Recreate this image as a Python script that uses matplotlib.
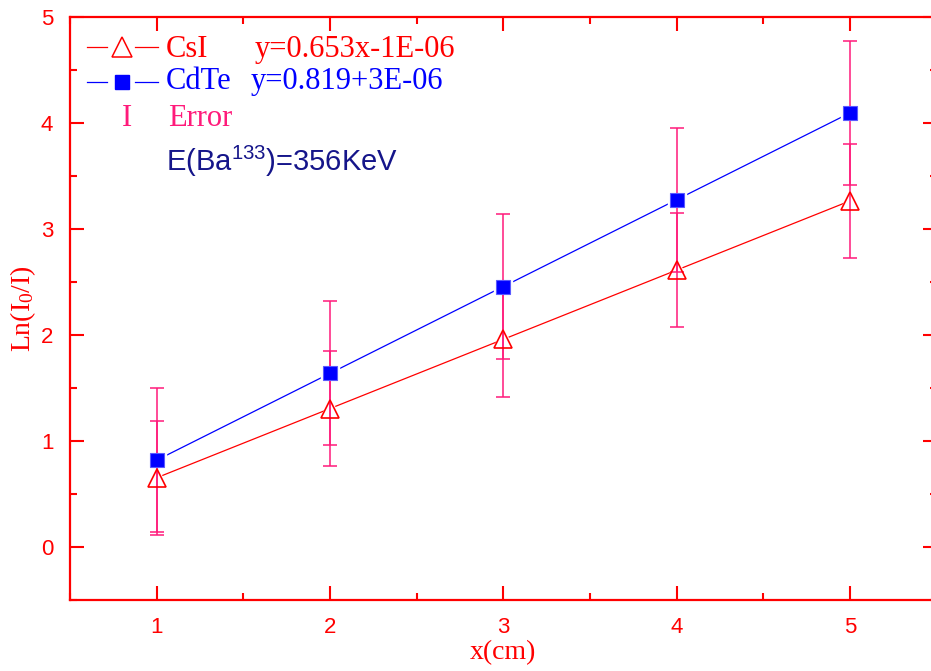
import matplotlib
matplotlib.use("Agg")
import matplotlib.pyplot as plt
from matplotlib.ticker import MultipleLocator

# data
x = [1, 2, 3, 4, 5]
csi = [0.653, 1.306, 1.959, 2.612, 3.265]
cdte = [0.819, 1.638, 2.457, 3.276, 4.095]
csi_err = [0.54, 0.54, 0.54, 0.54, 0.54]
cdte_err = [0.68, 0.68, 0.68, 0.68, 0.68]

red = "#ff0000"
blue = "#0000ff"
pink = "#ff1a7a"
navy = "#15158a"

plt.rcParams["mathtext.default"] = "regular"

fig = plt.figure(figsize=(9.31, 6.71), dpi=100)
ax = fig.add_axes([0.0752, 0.1058, 0.931, 0.869])

# connecting lines, broken around the markers
ax.plot(x, csi, color=red, lw=0.9, zorder=1)
ax.plot(x, cdte, color=blue, lw=0.9, zorder=1)
ax.plot(x, csi, ls="none", marker="^", ms=16, mfc="white", mec="white", zorder=2)
ax.plot(x, cdte, ls="none", marker="s", ms=13, mfc="white", mec="white", zorder=2)

ax.errorbar(x, cdte, yerr=cdte_err, fmt="none", ecolor=pink, elinewidth=1.1,
            capsize=5, capthick=1.1, zorder=3)
ax.errorbar(x, csi, yerr=csi_err, fmt="none", ecolor=pink, elinewidth=1.1,
            capsize=5, capthick=1.1, zorder=3)

ax.plot(x, csi, ls="none", marker="^", ms=12.5, mfc="none", mec=red, mew=1.2, zorder=4)
ax.plot(x, cdte, ls="none", marker="s", ms=10, mfc=blue, mec="#5a5aff", mew=0.8, zorder=4)

ax.set_xlim(0.5, 5.5)
ax.set_ylim(-0.5, 5)
ax.xaxis.set_major_locator(MultipleLocator(1))
ax.xaxis.set_minor_locator(MultipleLocator(0.5))
ax.yaxis.set_major_locator(MultipleLocator(1))
ax.yaxis.set_minor_locator(MultipleLocator(0.5))

for s in ax.spines.values():
    s.set_color(red)
    s.set_linewidth(1.6)
ax.tick_params(which="both", direction="in", color=red, width=1.5,
               top=True, right=True, labelcolor=red, labelsize=16, pad=12)
ax.tick_params(which="major", length=10)
ax.tick_params(which="minor", length=5)
for lab in ax.get_xticklabels() + ax.get_yticklabels():
    lab.set_family("Liberation Sans")

ax.set_xlabel("x(cm)", family="Liberation Serif", fontsize=20, color=red, labelpad=2)
ax.set_ylabel("Ln(I$_0$/I)", family="Liberation Serif", fontsize=20, color=red, labelpad=2)

# legend block in the top left corner
serif = "Liberation Serif"
tr = ax.transAxes
for y0, col in [(0.949, red), (0.888, blue)]:
    ax.plot([0.0196, 0.0427], [y0, y0], transform=tr, color=col, lw=0.9)
    ax.plot([0.075, 0.1015], [y0, y0], transform=tr, color=col, lw=0.9)
ax.plot([0.0605], [0.949], transform=tr, marker="^", ms=14, mfc="white",
        mec=red, mew=1.1)
ax.plot([0.0605], [0.888], transform=tr, marker="s", ms=10, mfc=blue, mec=blue)
ax.text(0.111, 0.932, "CsI", transform=tr, family=serif, fontsize=22, color=red)
ax.text(0.213, 0.932, "y=0.653x-1E-06", transform=tr, family=serif,
        fontsize=22, color=red)
ax.text(0.111, 0.876, "CdTe", transform=tr, family=serif, fontsize=22, color=blue)
ax.text(0.208, 0.876, "y=0.819+3E-06", transform=tr, family=serif,
        fontsize=22, color=blue)
ax.text(0.0657, 0.813, "I", transform=tr, family=serif, fontsize=22,
        color=pink, ha="center")
ax.text(0.113, 0.813, "Error", transform=tr, family=serif, fontsize=22, color=pink)
ax.text(0.111, 0.736, "E(Ba$^{133}$)=356KeV", transform=tr,
        family="Liberation Sans", fontsize=21, color=navy)

fig.savefig("out.png", dpi=100)
